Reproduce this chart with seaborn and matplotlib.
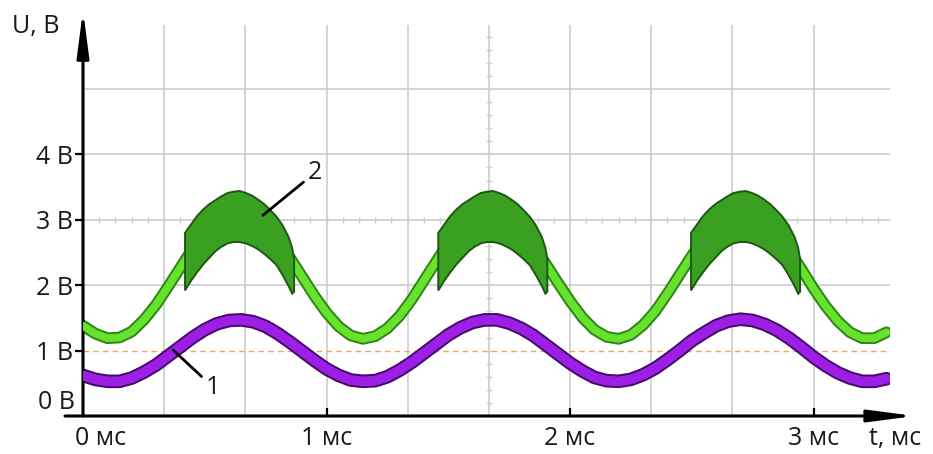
import numpy as np
import pandas as pd
import matplotlib
matplotlib.use('Agg')
import matplotlib.pyplot as plt
import matplotlib.transforms as mtransforms
import seaborn as sns

# oscillogram values (time in ms, voltage in V)
t_ms = [0.00, 0.05, 0.10, 0.15, 0.20, 0.25, 0.30, 0.35, 0.40, 0.45,
        0.50, 0.55, 0.60, 0.65, 0.70, 0.75, 0.80, 0.85, 0.90, 0.95,
        1.00, 1.05, 1.10, 1.15, 1.20, 1.25, 1.30, 1.35, 1.40, 1.45,
        1.50, 1.55, 1.60, 1.65, 1.70, 1.75, 1.80, 1.85, 1.90, 1.95,
        2.00, 2.05, 2.10, 2.15, 2.20, 2.25, 2.30, 2.35, 2.40, 2.45,
        2.50, 2.55, 2.60, 2.65, 2.70, 2.75, 2.80, 2.85, 2.90, 2.95,
        3.00, 3.05, 3.10, 3.15, 3.20, 3.25, 3.30]

# trace 1 (purple)
u1 = [0.62, 0.56, 0.53, 0.53, 0.58, 0.67, 0.78, 0.92, 1.06, 1.20,
      1.32, 1.41, 1.46, 1.47, 1.44, 1.37, 1.26, 1.13, 0.99, 0.85,
      0.72, 0.62, 0.55, 0.53, 0.54, 0.60, 0.70, 0.82, 0.96, 1.10,
      1.24, 1.35, 1.43, 1.47, 1.47, 1.42, 1.34, 1.23, 1.09, 0.95,
      0.81, 0.69, 0.59, 0.54, 0.53, 0.56, 0.63, 0.73, 0.86, 1.00,
      1.15, 1.27, 1.38, 1.45, 1.48, 1.46, 1.40, 1.31, 1.19, 1.05,
      0.90, 0.77, 0.66, 0.58, 0.53, 0.53, 0.57]

# trace 2 (green)
u2 = [1.38, 1.26, 1.19, 1.20, 1.29, 1.47, 1.70, 1.98, 2.27, 2.56,
      2.80, 2.99, 3.10, 3.12, 3.05, 2.90, 2.68, 2.42, 2.13, 1.84,
      1.58, 1.37, 1.23, 1.18, 1.22, 1.34, 1.53, 1.78, 2.07, 2.36,
      2.64, 2.87, 3.03, 3.11, 3.11, 3.02, 2.84, 2.61, 2.33, 2.04,
      1.76, 1.51, 1.32, 1.21, 1.18, 1.24, 1.39, 1.60, 1.87, 2.16,
      2.45, 2.71, 2.92, 3.06, 3.12, 3.09, 2.97, 2.78, 2.53, 2.25,
      1.95, 1.68, 1.45, 1.28, 1.19, 1.19, 1.28]

# oscillation bursts on trace 2: start times and envelope shape
burst_start = [0.419, 1.459, 2.497]
burst_dt = [0.000, 0.025, 0.050, 0.075, 0.100, 0.125, 0.150, 0.175, 0.200, 0.225,
            0.250, 0.275, 0.300, 0.325, 0.350, 0.375, 0.400, 0.425, 0.440, 0.448]
burst_high = [2.80, 2.93, 3.06, 3.16, 3.24, 3.30, 3.36, 3.41, 3.43, 3.44,
              3.41, 3.37, 3.31, 3.24, 3.15, 3.05, 2.92, 2.74, 2.57, 2.40]
burst_low = [1.92, 2.07, 2.20, 2.32, 2.42, 2.52, 2.59, 2.64, 2.66, 2.66,
             2.64, 2.60, 2.55, 2.48, 2.40, 2.31, 2.16, 1.99, 1.87, 1.90]

x_ticks = [1, 2, 3]
x_labels = ['1 мс', '2 мс', '3 мс']
y_ticks = [1, 2, 3, 4]
y_labels = ['1 В', '2 В', '3 В', '4 В']

sns.set_theme(style='white')
plt.rcParams['font.family'] = ['Open Sans', 'DejaVu Sans']
fs = 18
txt_col = '#1a1a1a'

fig = plt.figure(figsize=(9.33, 4.54), dpi=100)
ax = fig.add_axes([83 / 933, 1 - 416 / 454, 807 / 933, 391 / 454])
ax.set_xlim(0, 807 / 243.5)
ax.set_ylim(0, 391 / 65.4)
for s in ax.spines.values():
    s.set_visible(False)

# graticule
grid_col = '#cdcdcd'
for k in range(1, 10):
    ax.axvline(k / 3, color=grid_col, lw=1.2, zorder=0)
for v in [2, 3, 4, 5]:
    ax.axhline(v, color=grid_col, lw=1.2, zorder=0)
ax.axhline(1, color='#eea56a', lw=1.0, ls=(0, (4, 3)), zorder=1)
tt = np.arange(1, 50) / 15
ax.plot(tt, np.full(len(tt), 3.0), ls='none', marker='|', ms=4, mew=1,
        color=grid_col, zorder=0)
vv = np.arange(1, 30) * 0.2
ax.plot(np.full(len(vv), 5 / 3), vv, ls='none', marker='_', ms=4, mew=1,
        color=grid_col, zorder=0)

df = pd.DataFrame({'t': t_ms, 'u1': u1, 'u2': u2})

# traces: dark rim + bright core
sns.lineplot(data=df, x='t', y='u2', ax=ax, color='#2c8515', lw=8.4,
             solid_joinstyle='round', zorder=3)
sns.lineplot(data=df, x='t', y='u2', ax=ax, color='#66e22c', lw=5.6,
             solid_joinstyle='round', zorder=4)
sns.lineplot(data=df, x='t', y='u1', ax=ax, color='#45096a', lw=9.8,
             solid_joinstyle='round', zorder=3)
sns.lineplot(data=df, x='t', y='u1', ax=ax, color='#9d1fe6', lw=7.0,
             solid_joinstyle='round', zorder=4)

for t0 in burst_start:
    bx = [t0 + d for d in burst_dt]
    ax.fill(bx + bx[::-1], burst_high + burst_low[::-1], facecolor='#3aa021',
            edgecolor='#1d5811', lw=1.4, zorder=5)

# ticks and labels
ax.set_xticks(x_ticks)
ax.set_xticklabels(x_labels)
ax.set_yticks(y_ticks)
ax.set_yticklabels(y_labels)
ax.set_xlabel('')
ax.set_ylabel('')
ax.tick_params(axis='x', bottom=True, direction='in', length=6, width=1.6,
               pad=7, labelsize=fs, colors='black', labelcolor=txt_col)
ax.tick_params(axis='y', left=True, direction='out', length=6, width=1.6,
               pad=1, labelsize=fs, colors='black', labelcolor=txt_col)

# axes with arrows
arr = dict(arrowstyle='-|>,head_length=2.3,head_width=0.3', color='black',
           lw=2.2, shrinkA=0, shrinkB=0)
ax.annotate('', xy=(0, 1.038), xytext=(0, 0), xycoords='axes fraction',
            textcoords='axes fraction', arrowprops=arr, annotation_clip=False)
ax.annotate('', xy=(1.031, 0), xytext=(-0.0223, 0), xycoords='axes fraction',
            textcoords='axes fraction', arrowprops=arr, annotation_clip=False)

trans_y = mtransforms.blended_transform_factory(ax.transAxes, ax.transData)
trans_x = mtransforms.blended_transform_factory(ax.transData, ax.transAxes)
ax.text(-0.0099, 0.214, '0 В', transform=trans_y, ha='right', va='center',
        fontsize=fs, color=txt_col)
ax.text(-0.033, -0.0742, '0 мс', transform=trans_x, ha='left', va='baseline',
        fontsize=fs, color=txt_col)
ax.text(1.006, -0.0742, 't, мс', transform=ax.transAxes, ha='center',
        va='baseline', fontsize=fs, color=txt_col)
fig.text(12 / 933, 1 - 27 / 454, 'U, В', ha='left', va='center', fontsize=fs,
         color=txt_col)

# trace numbers
ax.annotate('2', xy=(0.739, 3.07), xytext=(0.953, 3.72), ha='center',
            va='center', fontsize=fs, color=txt_col,
            arrowprops=dict(arrowstyle='-', color='black', lw=2, shrinkA=1,
                            shrinkB=0), zorder=6)
ax.annotate('1', xy=(0.370, 1.01), xytext=(0.534, 0.44), ha='center',
            va='center', fontsize=fs, color=txt_col,
            arrowprops=dict(arrowstyle='-', color='black', lw=2, shrinkA=1,
                            shrinkB=0), zorder=6)

fig.savefig('out.png', dpi=100)
